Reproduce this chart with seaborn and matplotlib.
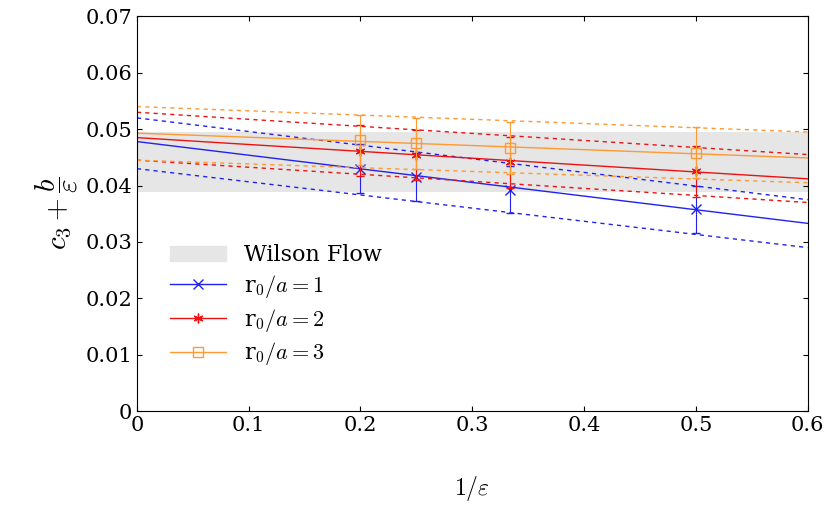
import numpy as np
import pandas as pd
import seaborn as sns
import matplotlib
matplotlib.use("Agg")
import matplotlib.pyplot as plt
from matplotlib.lines import Line2D
from matplotlib.patches import Patch

plt.rcParams.update({"font.family": "serif", "font.serif": ["DejaVu Serif"],
                     "mathtext.fontset": "cm", "font.size": 15})

x = [0.2, 0.25, 1/3, 0.5]
labels = [r"r$_0/a = 1$", r"r$_0/a = 2$", r"r$_0/a = 3$"]
colors = ["#2222ee", "#ee1111", "#ff9933"]
markers = ["x", (6, 2, 0), "s"]
vals = [[0.0430, 0.0415, 0.0393, 0.0358],
        [0.0462, 0.0454, 0.0441, 0.0425],
        [0.0481, 0.0475, 0.0467, 0.0458]]
errs = [[0.0043, 0.0042, 0.0042, 0.0042],
        [0.0045, 0.0045, 0.0045, 0.0045],
        [0.0045, 0.0045, 0.0046, 0.0045]]
fit_c = [0.0478, 0.0485, 0.0493]
fit_end = [0.0333, 0.0412, 0.0449]
up_c = [0.0520, 0.0530, 0.0540]
up_end = [0.0375, 0.0455, 0.0495]
lo_c = [0.0430, 0.0445, 0.0445]
lo_end = [0.0290, 0.0370, 0.0405]
wilson = (0.0388, 0.0495)

fig, ax = plt.subplots(figsize=(8.3, 5.12), dpi=100)
fig.subplots_adjust(left=0.165, right=0.973, bottom=0.197, top=0.968)
xx = np.array([0.0, 0.6])
ax.fill_between(xx, wilson[0], wilson[1], color="#e6e6e6", lw=0)
for i in range(3):
    df = pd.DataFrame({"x": xx, "fit": [fit_c[i], fit_end[i]],
                       "up": [up_c[i], up_end[i]], "lo": [lo_c[i], lo_end[i]]})
    sns.lineplot(data=df, x="x", y="fit", ax=ax, color=colors[i], lw=1)
    sns.lineplot(data=df, x="x", y="up", ax=ax, color=colors[i], lw=1, ls=(0, (3, 3)))
    sns.lineplot(data=df, x="x", y="lo", ax=ax, color=colors[i], lw=1, ls=(0, (3, 3)))
    ax.errorbar(x, vals[i], yerr=errs[i], fmt="none", ecolor=colors[i], elinewidth=0.8, capsize=3)
    ax.plot(x, vals[i], ls="none", marker=markers[i], color=colors[i], mfc="none", ms=7)
handles = [Patch(color="#e6e6e6", label="Wilson Flow")]
for i in range(3):
    handles.append(Line2D([], [], color=colors[i], lw=1, marker=markers[i], mfc="none", ms=7,
                          label=labels[i]))
ax.legend(handles=handles, loc="lower left", frameon=False, bbox_to_anchor=(0.02, 0.06),
          handlelength=2.5, labelspacing=0.3, fontsize=16)
ax.set_xlim(0, 0.6)
ax.set_ylim(0, 0.07)
ax.set_xticks(np.arange(0, 0.61, 0.1))
ax.set_xticklabels(["0", "0.1", "0.2", "0.3", "0.4", "0.5", "0.6"])
ax.set_yticks(np.arange(0, 0.071, 0.01))
ax.set_yticklabels(["0"] + [f"{v:.2f}" for v in np.arange(0.01, 0.071, 0.01)])
ax.tick_params(direction="in", top=True, right=True)
ax.set_xlabel(r"$1/\varepsilon$", labelpad=28, fontsize=17)
ax.set_ylabel(r"$c_3 + \dfrac{b}{\varepsilon}$", fontsize=21, labelpad=4)
fig.savefig("out.png")
